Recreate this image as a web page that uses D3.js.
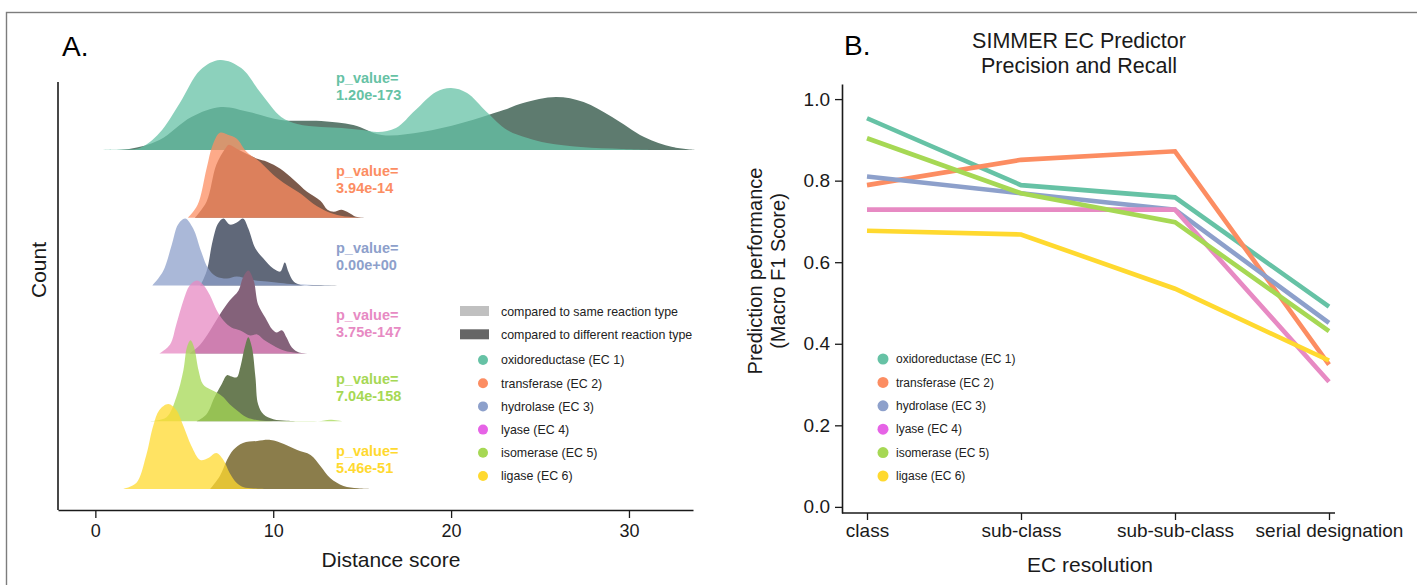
<!DOCTYPE html>
<html lang="en">
<head>
  <meta charset="UTF-8">
  <title>SIMMER distance scores and EC predictor</title>
  <script src="https://d3js.org/d3.v7.min.js"></script>
  <style>
    body { margin: 0; background: #fff; }
    svg { display: block; font-family: "Liberation Sans", Arial, Helvetica, sans-serif; }
  </style>
</head>
<body>
  <svg width="1417" height="585"></svg>

  <script>
    // ---------- data ----------
    const ecClasses = ["oxidoreductase (EC 1)", "transferase (EC 2)", "hydrolase (EC 3)",
                       "lyase (EC 4)", "isomerase (EC 5)", "ligase (EC 6)"];
    const pValues = ["1.20e-173", "3.94e-14", "0.00e+00", "3.75e-147", "7.04e-158", "5.46e-51"];

    // distance score density curves, [score, relative density]
    const oxidoSame = [[-0.2,0],[1.4,0.5],[2.5,2],[3.6,17],[4.75,47],[5.9,80],[7.0,90],[8.2,82],[9.3,57],[10.45,33],[11.35,26],[12.7,23],[13.85,22],[15.0,20],[15.9,18],[16.9,22],[18.0,40],[19.15,58],[20.0,62],[20.9,57],[22.0,38],[23.15,20],[24.3,12],[25.4,7],[27.3,3],[29.6,1],[31.3,0]];
    const oxidoDiff = [[0.2,0],[1.9,1],[3.6,10],[5.4,33],[7.05,43],[8.65,38],[10.45,30],[12.7,29],[14.5,25],[16.1,15],[18.35,18],[20.6,27],[22.95,40],[24.05,47],[25.9,53],[27.45,48],[29.05,33],[30.85,13],[32.45,3],[33.8,0]];
    const transSame = [[5.2,0],[5.75,13],[6.25,49],[6.6,73],[7.0,85],[7.45,83],[7.95,79],[8.5,66],[9.25,56],[10.0,43],[10.75,33],[11.55,24],[12.25,14],[13.05,6],[13.8,2],[14.75,0.3],[15.65,0]];
    const transDiff = [[5.6,0],[6.25,16],[6.8,53],[7.3,69],[7.5,73],[7.95,69],[8.5,64],[9.1,59],[9.65,56],[10.4,49],[11.15,38],[11.9,26],[12.65,17],[13.05,8],[13.4,6],[13.85,8],[14.25,5],[14.65,1],[15.3,0]];
    const hydroSame = [[3.2,0],[3.8,14],[4.3,41],[4.65,61],[5.05,67],[5.5,57],[5.95,34],[6.35,17],[6.8,9],[7.4,7],[7.95,9],[8.7,6],[9.65,4],[10.4,2.5],[11.15,1.3],[12.25,0.7],[14.2,0]];
    const hydroDiff = [[5.9,0],[6.25,14],[6.6,45],[6.9,62],[7.2,67],[7.55,61],[7.95,63],[8.3,67],[8.6,57],[9.0,37],[9.45,27],[10.0,17],[10.4,14],[10.65,23],[10.85,14],[11.15,4],[11.55,0.7],[13.8,0]];
    const lyaseSame = [[3.6,0],[4.2,9],[4.55,29],[4.95,53],[5.3,68],[5.7,73],[6.05,69],[6.45,58],[6.8,44],[7.2,33],[7.65,26],[8.15,23],[8.7,18],[9.1,19],[9.45,14],[10.0,8],[10.6,3],[11.35,0.5],[12.25,0]];
    const lyaseDiff = [[5.3,0],[5.9,9],[6.45,23],[7.0,39],[7.55,53],[8.05,63],[8.3,76],[8.6,83],[8.9,73],[9.15,49],[9.55,36],[9.95,24],[10.2,21],[10.5,23],[10.75,16],[11.05,6],[11.45,1],[12.25,0]];
    const isoSame = [[3.05,0],[4.0,4],[4.55,24],[4.95,51],[5.15,74],[5.35,81],[5.55,74],[5.8,51],[6.05,37],[6.45,32],[6.8,29],[7.2,24],[7.55,17],[7.95,11],[8.5,4],[9.25,0.7],[10.0,0],[12.5,0],[13.2,1.5],[13.9,0]];
    const isoDiff = [[5.7,0],[6.25,7],[6.7,24],[7.1,37],[7.4,46],[7.6,45],[7.95,44],[8.15,54],[8.4,74],[8.6,84],[8.8,74],[9.0,44],[9.15,17],[9.45,7],[10.0,2],[10.75,0.5],[11.55,0]];
    const ligaseSame = [[1.55,0],[2.3,6],[2.85,33],[3.25,63],[3.6,79],[4.1,85],[4.55,79],[4.95,63],[5.4,43],[5.9,29],[6.35,31],[6.8,36],[7.2,29],[7.55,16],[7.95,6],[8.3,2],[8.9,0.5],[9.65,0]];
    const ligaseDiff = [[6.45,0],[7.0,13],[7.4,29],[7.75,39],[8.3,46],[9.1,48],[9.85,49],[10.6,45],[11.35,39],[12.1,34],[12.65,23],[13.2,11],[13.95,3],[14.75,0.7],[15.5,0]];

    const sameCurves = [oxidoSame, transSame, hydroSame, lyaseSame, isoSame, ligaseSame];
    const diffCurves = [oxidoDiff, transDiff, hydroDiff, lyaseDiff, isoDiff, ligaseDiff];
    const distTicks = [0, 10, 20, 30];

    // panel B: macro F1 per EC resolution
    const ecLevels = ["class", "sub-class", "sub-sub-class", "serial designation"];
    const f1Oxido  = [0.953, 0.789, 0.759, 0.491];
    const f1Trans  = [0.789, 0.851, 0.872, 0.349];
    const f1Hydro  = [0.810, 0.769, 0.729, 0.451];
    const f1Lyase  = [0.729, 0.729, 0.729, 0.307];
    const f1Iso    = [0.904, 0.769, 0.698, 0.431];
    const f1Ligase = [0.677, 0.668, 0.535, 0.359];
    const f1Series = [f1Oxido, f1Trans, f1Hydro, f1Lyase, f1Iso, f1Ligase];
    const f1Ticks = [0, 0.2, 0.4, 0.6, 0.8, 1.0];

    // ---------- colours ----------
    const set2 = ["#66c2a5", "#fc8d62", "#8da0cb", "#e78ac3", "#a6d854", "#ffd92f"];
    const darkFill = ["#5e7b6f", "#7c5a4b", "#606879", "#84627a", "#6a7c54", "#8b7d4b"];
    const legendDot = ["#66c2a5", "#fc8d62", "#8da0cb", "#e663e6", "#a6d854", "#ffd92f"];
    const ink = "#1a1a1a";

    const svg = d3.select("svg");

    // outer frame (right and bottom edges run off the picture)
    svg.append("rect")
      .attr("x", 6.5).attr("y", 12.5)
      .attr("width", 1500).attr("height", 700)
      .attr("fill", "none").attr("stroke", "#7d7d7d").attr("stroke-width", 1.4);

    // ================= Panel A =================
    const xA = d3.scaleLinear().domain([-2.1, 33.6]).range([58, 693]);
    const ridgeY = d3.scalePoint().domain(ecClasses).range([150, 489]);
    const hA = d3.scaleLinear().domain([0, 100]).range([0, 100]);
    const pLabelY = [83, 176, 253, 320, 384, 456];

    const gA = svg.append("g");

    ecClasses.forEach((c, i) => {
      const base = ridgeY(c);
      const area = d3.area()
        .x(d => xA(d[0]))
        .y0(base)
        .y1(d => base - hA(d[1]))
        .curve(d3.curveCatmullRom.alpha(0.5));

      gA.append("path").datum(diffCurves[i])
        .attr("d", area).attr("fill", darkFill[i]);
      gA.append("path").datum(sameCurves[i])
        .attr("d", area).attr("fill", set2[i]).attr("fill-opacity", 0.75);

      const lab = gA.append("text")
        .attr("x", 336).attr("y", pLabelY[i])
        .attr("fill", set2[i]).attr("font-weight", "bold")
        .attr("font-size", 14.5);
      lab.append("tspan").attr("x", 336).text("p_value=");
      lab.append("tspan").attr("x", 336).attr("dy", 17).text(pValues[i]);
    });

    // axes
    const axA = gA.append("g")
      .attr("transform", "translate(0,510)")
      .call(d3.axisBottom(xA).tickValues(distTicks).tickSize(8).tickPadding(6).tickSizeOuter(0));
    axA.select(".domain").attr("stroke", ink).attr("stroke-width", 1.6);
    axA.selectAll(".tick line").attr("stroke", ink).attr("stroke-width", 1.3);
    axA.selectAll(".tick text").attr("font-size", 18).attr("fill", ink)
      .attr("font-family", "'Liberation Sans', Arial, sans-serif");

    gA.append("line")
      .attr("x1", xA.range()[0]).attr("x2", xA.range()[0])
      .attr("y1", 82).attr("y2", 510)
      .attr("stroke", ink).attr("stroke-width", 1.6);

    gA.append("text").attr("x", 62).attr("y", 56)
      .attr("font-size", 28).attr("fill", "#000").text("A.");
    gA.append("text").attr("x", 391).attr("y", 567)
      .attr("text-anchor", "middle").attr("font-size", 21).attr("fill", ink)
      .text("Distance score");
    gA.append("text").attr("transform", "translate(46,270) rotate(-90)")
      .attr("text-anchor", "middle").attr("font-size", 21).attr("fill", ink)
      .text("Count");

    // legend A
    const legA = gA.append("g").attr("font-size", 12.4).attr("fill", "#222");
    [["#c0c0c0", "compared to same reaction type"], ["#666666", "compared to different reaction type"]]
      .forEach((d, i) => {
        legA.append("rect").attr("x", 460).attr("y", 306 + i * 23.3)
          .attr("width", 29).attr("height", 10).attr("fill", d[0]);
        legA.append("text").attr("x", 501).attr("y", 316 + i * 23.3).text(d[1]);
      });
    ecClasses.forEach((c, i) => {
      const cy = 360 + i * 23.2;
      legA.append("circle").attr("cx", 483).attr("cy", cy).attr("r", 5).attr("fill", legendDot[i]);
      legA.append("text").attr("x", 501).attr("y", cy + 4.3).text(c);
    });

    // ================= Panel B =================
    const xB = d3.scalePoint().domain(ecLevels).range([867, 1329]);
    const yB = d3.scaleLinear().domain([-0.015, 1.037]).range([513, 84]);
    const gB = svg.append("g");

    const line = d3.line()
      .x((d, j) => xB(ecLevels[j]))
      .y(d => yB(d));

    f1Series.forEach((s, i) => {
      gB.append("path").datum(s)
        .attr("d", line)
        .attr("fill", "none")
        .attr("stroke", set2[i])
        .attr("stroke-width", 4.6);
    });

    const ayB = gB.append("g")
      .attr("transform", "translate(842,0)")
      .call(d3.axisLeft(yB).tickValues(f1Ticks).tickFormat(d3.format(".1f"))
        .tickSize(7).tickPadding(5).tickSizeOuter(0));
    const axB = gB.append("g")
      .attr("transform", "translate(0,513)")
      .call(d3.axisBottom(xB).tickSize(7).tickPadding(4).tickSizeOuter(0));
    // x spine runs from the y axis to just past the last category
    axB.select(".domain").attr("d", `M842,0H${xB.range()[1] + 6}`);

    [ayB, axB].forEach(a => {
      a.select(".domain").attr("stroke", ink).attr("stroke-width", 1.6);
      a.selectAll(".tick line").attr("stroke", ink).attr("stroke-width", 1.3);
      a.selectAll(".tick text").attr("font-size", 19).attr("fill", ink)
        .attr("font-family", "'Liberation Sans', Arial, sans-serif");
    });

    gB.append("text").attr("x", 844).attr("y", 55)
      .attr("font-size", 28).attr("fill", "#000").text("B.");
    gB.append("text").attr("x", 1079).attr("y", 48)
      .attr("text-anchor", "middle").attr("font-size", 21.5).attr("fill", ink)
      .text("SIMMER EC Predictor");
    gB.append("text").attr("x", 1079).attr("y", 73)
      .attr("text-anchor", "middle").attr("font-size", 21.5).attr("fill", ink)
      .text("Precision and Recall");
    gB.append("text").attr("x", 1090).attr("y", 572)
      .attr("text-anchor", "middle").attr("font-size", 21).attr("fill", ink)
      .text("EC resolution");
    gB.append("text").attr("transform", "translate(762,271) rotate(-90)")
      .attr("text-anchor", "middle").attr("font-size", 20).attr("fill", ink)
      .text("Prediction performance");
    gB.append("text").attr("transform", "translate(785,271) rotate(-90)")
      .attr("text-anchor", "middle").attr("font-size", 20).attr("fill", ink)
      .text("(Macro F1 Score)");

    // legend B
    const legB = gB.append("g").attr("font-size", 12).attr("fill", "#222");
    ecClasses.forEach((c, i) => {
      const cy = 359 + i * 23.4;
      legB.append("circle").attr("cx", 883).attr("cy", cy).attr("r", 5.5).attr("fill", legendDot[i]);
      legB.append("text").attr("x", 896).attr("y", cy + 4.2).text(c);
    });
  </script>
</body>
</html>
